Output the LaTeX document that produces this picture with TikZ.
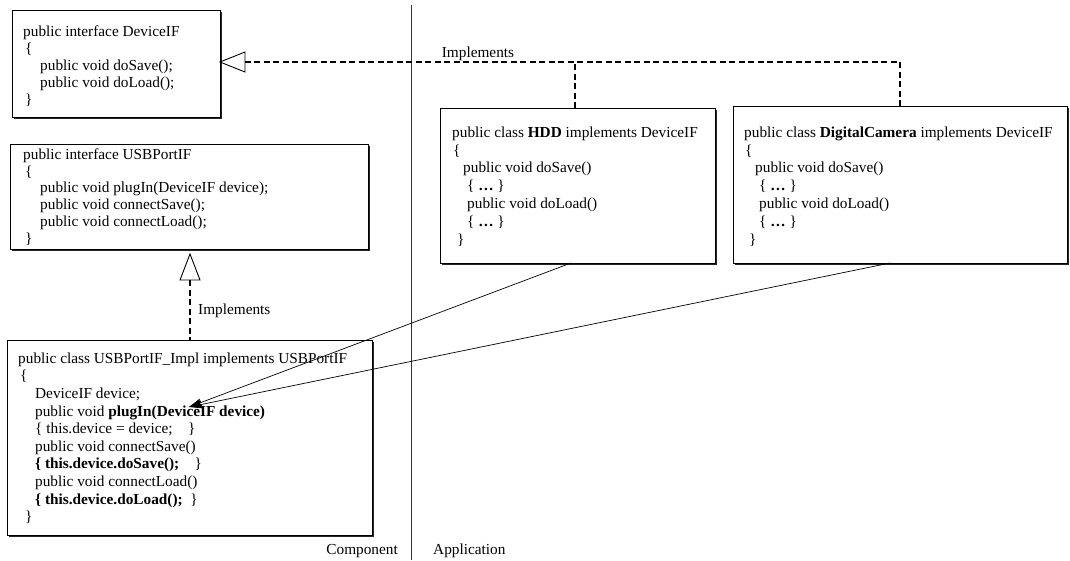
\documentclass[tikz,border=0pt]{standalone}
\usepackage{fontspec}
\setmainfont{Liberation Serif}
\usetikzlibrary{arrows.meta,shadows}
% invisible strut that fixes the height of a block's first line
\newcommand\firstln{\rule{0pt}{11pt}}
\begin{document}
\begin{tikzpicture}[x=1pt,y=-1pt,
  box/.style={draw=black, line width=0.8pt, fill=white, anchor=north west,
    inner sep=0pt, outer sep=0pt,
    drop shadow={shadow xshift=1.6pt, shadow yshift=-1.6pt, opacity=1, fill=black!85}},
  code/.style={anchor=north west, inner sep=0pt, align=left,
    font=\fontsize{15.3}{17}\selectfont},
  lbl/.style={inner sep=0pt, font=\fontsize{15.3}{17}\selectfont},
  realize/.style={dash pattern=on 6pt off 3.5pt, line width=1.1pt},
  hollow/.style={draw=black, line width=0.9pt, fill=white},
  calls/.style={line width=0.7pt, -{Stealth[length=13pt,width=8pt,inset=2pt]}}]

\useasboundingbox (0,0) rectangle (1070,560);

% component / application divider
\draw[line width=0.7pt, black!80] (411,5) -- (411,560);

% class boxes
\node[box, minimum width=208pt, minimum height=107pt] (dev)  at (12,10)   {};
\node[box, minimum width=358pt, minimum height=105pt] (usb)  at (10,144)  {};
\node[box, minimum width=365pt, minimum height=195pt] (impl) at (7,340)   {};
\node[box, minimum width=275pt, minimum height=155pt] (hdd)  at (440,108) {};
\node[box, minimum width=334pt, minimum height=157pt] (cam)  at (733,106) {};

% source text
\node[code] (devtxt) at (23,25) {\firstln public interface DeviceIF\\
\hspace*{2pt}\{\\
\hspace*{17pt}public void doSave();\\
\hspace*{17pt}public void doLoad();\\
\hspace*{2pt}\}};

\node[code, font=\fontsize{15.3}{16.8}\selectfont] (usbtxt) at (23,148) {\firstln public interface USBPortIF\\
\hspace*{2pt}\{\\
\hspace*{17pt}public void plugIn(DeviceIF device);\\
\hspace*{17pt}public void connectSave();\\
\hspace*{17pt}public void connectLoad();\\
\hspace*{2pt}\}};

\node[code, font=\fontsize{15.3}{17.6}\selectfont] (impltxt) at (18,352) {\firstln public class USBPortIF\_Impl implements USBPortIF\\
\hspace*{2pt}\{\\
\hspace*{17pt}DeviceIF device;\\
\hspace*{17pt}public void \textbf{plugIn(DeviceIF device)}\\
\hspace*{17pt}\{ this.device = device;\quad\}\\
\hspace*{17pt}public void connectSave()\\
\hspace*{17pt}\textbf{\{ this.device.doSave();}\quad\}\\
\hspace*{17pt}public void connectLoad()\\
\hspace*{17pt}\textbf{\{ this.device.doLoad();}\ \ \}\\
\hspace*{7pt}\}};

\node[code, font=\fontsize{15.3}{17.8}\selectfont] (hddtxt) at (452,126) {\firstln public class \textbf{HDD} implements DeviceIF\\
\hspace*{1pt}\{\\
\hspace*{11pt}public void doSave()\\
\hspace*{15pt}\{ \textbf{…} \}\\
\hspace*{15pt}public void doLoad()\\
\hspace*{15pt}\{ \textbf{…} \}\\
\hspace*{5pt}\}};

\node[code, font=\fontsize{15.3}{17.8}\selectfont] (camtxt) at (744,126) {\firstln public class \textbf{DigitalCamera} implements DeviceIF\\
\hspace*{1pt}\{\\
\hspace*{11pt}public void doSave()\\
\hspace*{15pt}\{ \textbf{…} \}\\
\hspace*{15pt}public void doLoad()\\
\hspace*{15pt}\{ \textbf{…} \}\\
\hspace*{5pt}\}};

% HDD and DigitalCamera realize DeviceIF
\coordinate (hddup) at (575,62);
\coordinate (camup) at (900,62);
\coordinate (devtip) at (dev.east |- hddup);
\draw[hollow] (devtip) -- ++(25,-10) -- ++(0,20) -- cycle;
\path (devtip) ++(25,0) coordinate (devbase);
\draw[realize] (hdd.north -| hddup) -- (hddup);
\draw[realize] (cam.north -| camup) -- (camup) -- (devbase);
\node[lbl, anchor=base] (implA) at (478,57) {Implements};

% USBPortIF_Impl realizes USBPortIF
\coordinate (usbtip) at (190,254);
\draw[hollow] (usbtip) -- ++(-10,26) -- ++(20,0) -- cycle;
\path (usbtip) ++(0,26) coordinate (usbbase);
\draw[realize] (usbbase) -- (impl.north -| usbbase);
\node[lbl, anchor=base west] (implB) at (198,314) {Implements};

% devices plugged into the port
\coordinate (plug) at (189,407);
\path (hdd.south west) ++(131,0) coordinate (hddout);
\path (cam.south west) ++(157,0) coordinate (camout);
\draw[calls] (hddout) -- (plug);
\draw[calls] (camout) -- (plug);

% layer captions
\node[lbl, anchor=base east] (comp) at (398,554) {Component};
\node[lbl, anchor=base west] (app)  at (433,554) {Application};
\end{tikzpicture}
\end{document}
